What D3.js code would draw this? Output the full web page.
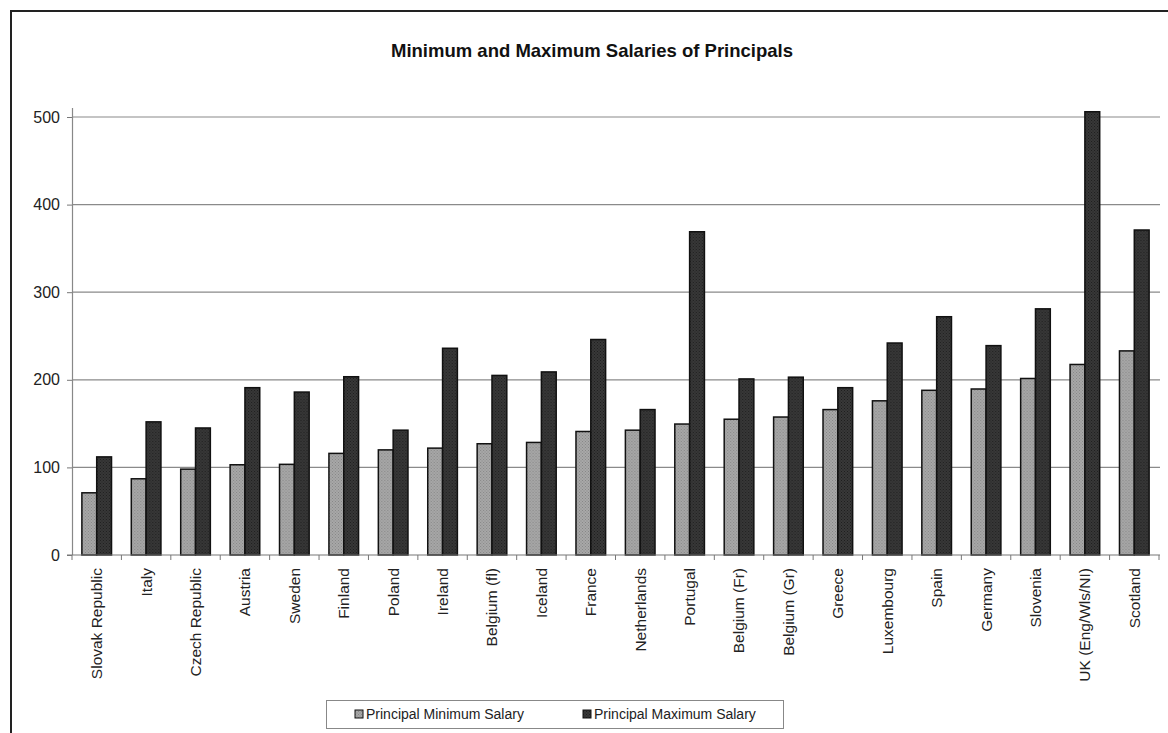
<!DOCTYPE html>
<html>
<head>
<meta charset="utf-8">
<script src="https://cdn.jsdelivr.net/npm/d3@7"></script>
<style>
  body { margin: 0; background: #fff; }
  svg { display: block; font-family: Arial, "Liberation Sans", sans-serif; }
</style>
</head>
<body>
<svg id="chart" width="1168" height="733"></svg>
<script>
// countries, in the order they appear on the chart
var countries = ["Slovak Republic", "Italy", "Czech Republic", "Austria", "Sweden",
  "Finland", "Poland", "Ireland", "Belgium (fl)", "Iceland", "France", "Netherlands",
  "Portugal", "Belgium (Fr)", "Belgium (Gr)", "Greece", "Luxembourg", "Spain",
  "Germany", "Slovenia", "UK (Eng/Wls/NI)", "Scotland"];

var minSalary = [71, 87, 98, 103, 103.5, 116, 120, 122, 127, 128.5, 141, 142.5,
  149.5, 155, 157.5, 166, 176, 188, 189.5, 201.5, 217.5, 233];

var maxSalary = [112, 152, 145, 191, 186, 203.5, 142.5, 236, 205, 209, 246, 166,
  369, 201, 203, 191, 242, 272, 239, 281, 506, 371];

var series = ["Principal Minimum Salary", "Principal Maximum Salary"];
var yTicks = [0, 100, 200, 300, 400, 500];

var svg = d3.select("#chart");

// outer frame (runs off the right and bottom edges like the scan)
svg.append("rect")
    .attr("x", 11).attr("y", 11)
    .attr("width", 1200).attr("height", 800)
    .attr("fill", "none")
    .attr("stroke", "#222")
    .attr("stroke-width", 2);

// title
svg.append("text")
    .attr("x", 592).attr("y", 57)
    .attr("text-anchor", "middle")
    .attr("font-size", 18.5)
    .attr("font-weight", "bold")
    .attr("fill", "#111")
    .text("Minimum and Maximum Salaries of Principals");

// scales
var x = d3.scaleBand()
    .domain(countries)
    .range([72, 1159])
    .paddingInner(0.4)
    .paddingOuter(0.2);

var xSub = d3.scaleBand()
    .domain([0, 1])
    .range([0, x.bandwidth()]);

var y = d3.scaleLinear()
    .domain([0, 500])
    .range([555, 117]);

// gridlines
svg.append("g").selectAll("line")
    .data(yTicks.slice(1))
  .enter().append("line")
    .attr("x1", 72).attr("x2", 1160)
    .attr("y1", function(d) { return y(d); })
    .attr("y2", function(d) { return y(d); })
    .attr("stroke", "#8a8a8a")
    .attr("stroke-width", 1.2);

// y axis
var yAxis = svg.append("g")
    .attr("transform", "translate(72,0)")
    .call(d3.axisLeft(y).tickValues(yTicks).tickSize(5).tickPadding(7));
yAxis.select(".domain").remove();
yAxis.selectAll("line").attr("stroke", "#777");
yAxis.selectAll("text").attr("font-size", 16).attr("fill", "#222")
    .attr("font-family", "Arial, 'Liberation Sans', sans-serif");
svg.append("line")
    .attr("x1", 72.5).attr("x2", 72.5)
    .attr("y1", 108).attr("y2", 555)
    .attr("stroke", "#888").attr("stroke-width", 1.2);

// bar patterns (dotted fill like the print)
var defs = svg.append("defs");
function dotPattern(id, bg, dot) {
  var p = defs.append("pattern")
      .attr("id", id)
      .attr("width", 3).attr("height", 3)
      .attr("patternUnits", "userSpaceOnUse");
  p.append("rect").attr("width", 3).attr("height", 3).attr("fill", bg);
  p.append("rect").attr("width", 1).attr("height", 1).attr("fill", dot);
  p.append("rect").attr("x", 1.5).attr("y", 1.5).attr("width", 1).attr("height", 1).attr("fill", dot);
}
dotPattern("pMin", "#a8a8a8", "#868686");
dotPattern("pMax", "#383838", "#1e1e1e");
var fills = ["url(#pMin)", "url(#pMax)"];

// bars
var rows = countries.map(function(c, i) { return { name: c, vals: [minSalary[i], maxSalary[i]] }; });

var group = svg.append("g").selectAll("g")
    .data(rows)
  .enter().append("g")
    .attr("transform", function(d) { return "translate(" + x(d.name) + ",0)"; });

group.selectAll("rect")
    .data(function(d) { return d.vals; })
  .enter().append("rect")
    .attr("x", function(d, i) { return xSub(i); })
    .attr("y", function(d) { return y(d); })
    .attr("width", xSub.bandwidth())
    .attr("height", function(d) { return y(0) - y(d); })
    .attr("fill", function(d, i) { return fills[i]; })
    .attr("stroke", "#111")
    .attr("stroke-width", 1.5);

// x axis
var xAxis = svg.append("g")
    .attr("transform", "translate(0," + y(0) + ")");
xAxis.append("line")
    .attr("x1", 67).attr("x2", 1160)
    .attr("stroke", "#777").attr("stroke-width", 1.2);
var step = x.step();
xAxis.selectAll("line.tick")
    .data(d3.range(countries.length + 1))
  .enter().append("line")
    .attr("class", "tick")
    .attr("x1", function(i) { return 72 + i * step; })
    .attr("x2", function(i) { return 72 + i * step; })
    .attr("y1", 0).attr("y2", 5)
    .attr("stroke", "#777");
xAxis.selectAll("text")
    .data(countries)
  .enter().append("text")
    .attr("transform", function(d) {
      return "translate(" + (x(d) + x.bandwidth() / 2) + ",13) rotate(-90)";
    })
    .attr("text-anchor", "end")
    .attr("dy", "0.35em")
    .attr("font-size", 15.5)
    .attr("fill", "#222")
    .text(function(d) { return d; });

// legend
var legend = svg.append("g");
legend.append("rect")
    .attr("x", 326.5).attr("y", 700.5)
    .attr("width", 457).attr("height", 28)
    .attr("fill", "#fff")
    .attr("stroke", "#888");
var legendX = [355, 583];
var item = legend.selectAll("g")
    .data(series)
  .enter().append("g")
    .attr("transform", function(d, i) { return "translate(" + legendX[i] + ",714)"; });
item.append("rect")
    .attr("x", 0).attr("y", -4)
    .attr("width", 8).attr("height", 8)
    .attr("fill", function(d, i) { return fills[i]; })
    .attr("stroke", "#111");
item.append("text")
    .attr("x", 11)
    .attr("dy", "0.35em")
    .attr("font-size", 14)
    .attr("fill", "#222")
    .text(function(d) { return d; });
</script>
</body>
</html>
